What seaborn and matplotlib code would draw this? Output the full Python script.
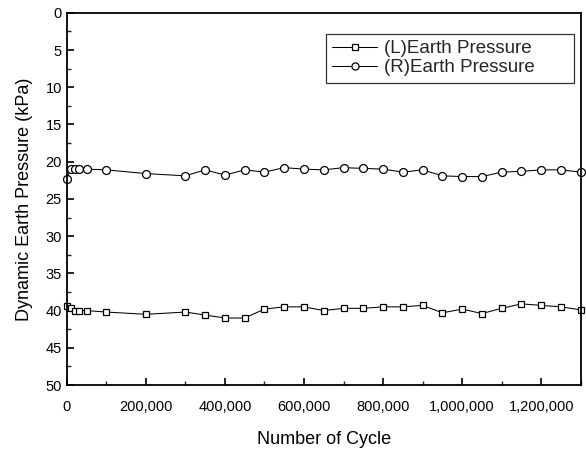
import matplotlib
matplotlib.use("Agg")
import matplotlib.pyplot as plt
from matplotlib.ticker import MultipleLocator, FuncFormatter
import numpy as np
import pandas as pd
import seaborn as sns

# Loading cycles (shared by both gauges)
cycles = [0, 10000, 20000, 30000, 50000, 100000, 200000, 300000, 350000, 400000,
          450000, 500000, 550000, 600000, 650000, 700000, 750000, 800000, 850000,
          900000, 950000, 1000000, 1050000, 1100000, 1150000, 1200000, 1250000,
          1300000]

# Dynamic earth pressure, left gauge (kPa)
left_pressure = [39.4, 39.6, 40.0, 40.0, 40.0, 40.2, 40.5, 40.2, 40.6, 41.0,
                 41.0, 39.8, 39.5, 39.5, 40.0, 39.7, 39.7, 39.5, 39.5, 39.3,
                 40.3, 39.8, 40.4, 39.7, 39.1, 39.3, 39.5, 39.9]

# Dynamic earth pressure, right gauge (kPa)
right_pressure = [22.3, 21.0, 21.0, 21.0, 21.0, 21.1, 21.6, 21.9, 21.1, 21.8,
                  21.1, 21.4, 20.8, 21.0, 21.1, 20.8, 20.9, 21.0, 21.4, 21.1,
                  21.9, 22.0, 22.0, 21.4, 21.3, 21.1, 21.1, 21.4]

series_names = ["(L)Earth Pressure", "(R)Earth Pressure"]

sns.set_theme(style="white")
plt.rcParams["font.family"] = ["Liberation Sans", "DejaVu Sans"]

df = pd.DataFrame({
    "cycle": cycles * 2,
    "pressure": left_pressure + right_pressure,
    "series": [series_names[0]] * len(cycles) + [series_names[1]] * len(cycles),
})

fig = plt.figure(figsize=(5.86, 4.49), dpi=100)
ax = fig.add_axes([0.114, 0.1425, 0.877, 0.829])

for name, marker, ms in zip(series_names, ["s", "o"], [5.0, 5.7]):
    sub = df[df["series"] == name]
    sns.lineplot(data=sub, x="cycle", y="pressure", ax=ax, color="black",
                 linewidth=0.75, marker=marker, markersize=ms,
                 markerfacecolor="white", markeredgecolor="black",
                 markeredgewidth=0.9, label=name, clip_on=False)

ax.set_xlim(0, 1300000)
ax.set_ylim(50, 0)
ax.xaxis.set_major_locator(MultipleLocator(200000))
ax.xaxis.set_minor_locator(MultipleLocator(100000))
ax.yaxis.set_major_locator(MultipleLocator(5))
ax.yaxis.set_minor_locator(MultipleLocator(2.5))
ax.xaxis.set_major_formatter(FuncFormatter(lambda v, p: f"{int(v):,}"))

ax.tick_params(axis="both", which="major", direction="in", length=5, width=1.2,
               labelsize=10.5, colors="black", top=False, right=False,
               bottom=True, left=True)
ax.tick_params(axis="x", which="major", pad=11)
ax.tick_params(axis="both", which="minor", direction="in", length=3, width=1.0,
               top=False, right=False, bottom=True, left=True)

for side in ax.spines.values():
    side.set_color("black")
    side.set_linewidth(1.3)

ax.set_xlabel("Number of Cycle", fontsize=13, labelpad=12, color="black")
ax.set_ylabel("Dynamic Earth Pressure (kPa)", fontsize=13, labelpad=9,
              color="black")

leg = ax.legend(loc="upper left", bbox_to_anchor=(0.504, 0.944, 0.482, 0.0),
                mode="expand", fontsize=13.5, markerscale=0.9,
                frameon=True, fancybox=False, edgecolor="black",
                handlelength=2.4, handletextpad=0.35, borderpad=0.35,
                labelspacing=0.1, borderaxespad=0.0)
leg.get_frame().set_linewidth(0.9)

fig.savefig("out.png", dpi=100, facecolor="white")
